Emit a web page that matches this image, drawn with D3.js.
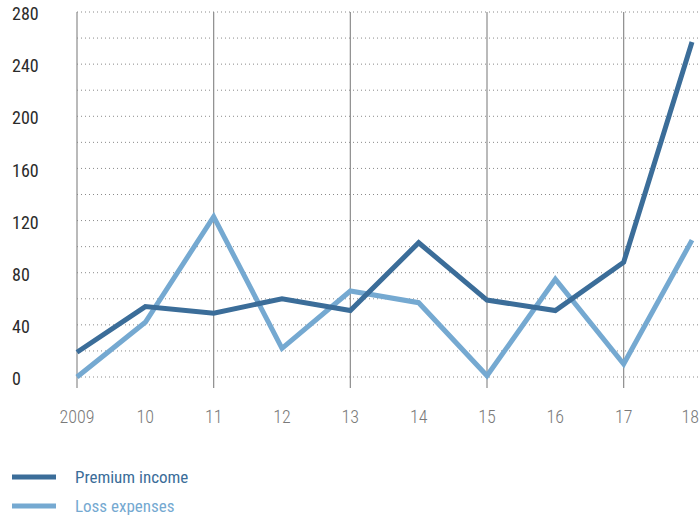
<!DOCTYPE html>
<html>
<head>
<meta charset="utf-8">
<script src="https://cdn.jsdelivr.net/npm/d3@7"></script>
<style>
  body { margin: 0; background: #fff; }
  text { font-family: "Roboto Condensed", "Roboto", sans-serif; font-stretch: condensed; }
</style>
</head>
<body>
<div id="chart"></div>
<script>
// data
const years = ["2009", "10", "11", "12", "13", "14", "15", "16", "17", "18"];
const premiumIncome = [19, 54, 49, 60, 51, 103, 59, 51, 88, 257];
const lossExpenses = [0, 42, 123, 22, 66, 57, 1, 75, 10, 105];
const yTicks = [0, 40, 80, 120, 160, 200, 240, 280];
const seriesNames = ["Premium income", "Loss expenses"];

const colors = ["#3b6d99", "#75a9d1"];

const width = 699, height = 515;
const margin = {top: 12, right: 7, bottom: 138, left: 77};

const svg = d3.select("#chart").append("svg")
    .attr("width", width)
    .attr("height", height);

const x = d3.scalePoint()
    .domain(years)
    .range([margin.left, width - margin.right]);

const y = d3.scaleLinear()
    .domain([0, 280])
    .range([height - margin.bottom, margin.top]);

// dotted horizontal grid every 20
const gridVals = d3.range(0, 281, 20);
svg.append("g").selectAll("line")
    .data(gridVals)
    .join("line")
    .attr("x1", margin.left)
    .attr("x2", width)
    .attr("y1", d => y(d))
    .attr("y2", d => y(d))
    .attr("stroke", "#8a8a8a")
    .attr("stroke-width", 1)
    .attr("stroke-dasharray", "1,3");

// solid vertical lines on every other year
svg.append("g").selectAll("line")
    .data(years.filter((d, i) => i % 2 === 0 && i < years.length - 1))
    .join("line")
    .attr("x1", d => x(d))
    .attr("x2", d => x(d))
    .attr("y1", margin.top)
    .attr("y2", y(0) + 11)
    .attr("stroke", "#8c8c8c")
    .attr("stroke-width", 1.2);

// y labels
svg.append("g").selectAll("text")
    .data(yTicks)
    .join("text")
    .attr("x", 12)
    .attr("y", d => y(d))
    .attr("dy", "0.45em")
    .style("font-size", "18px")
    .style("fill", "#2b2b2b")
    .text(d => d);

// x labels (last one pulled in so it stays on the page)
const last = years[years.length - 1];
svg.append("g").selectAll("text")
    .data(years)
    .join("text")
    .attr("x", d => d === last ? width : x(d))
    .attr("y", 423)
    .attr("text-anchor", d => d === last ? "end" : "middle")
    .style("font-size", "18px")
    .style("font-weight", 300)
    .style("fill", "#7a7a7a")
    .text(d => d);

const line = d3.line()
    .x((d, i) => x(years[i]))
    .y(d => y(d));

[premiumIncome, lossExpenses].reverse().forEach((vals, k) => {
    const idx = 1 - k;
    svg.append("path")
        .datum(vals)
        .attr("d", line)
        .attr("fill", "none")
        .attr("stroke", colors[idx])
        .attr("stroke-width", 5)
        .attr("stroke-linejoin", "miter");
});

// legend
const legend = svg.append("g");
seriesNames.forEach((name, i) => {
    const ly = 477 + i * 29;
    legend.append("line")
        .attr("x1", 12).attr("x2", 56)
        .attr("y1", ly).attr("y2", ly)
        .attr("stroke", colors[i])
        .attr("stroke-width", 5);
    legend.append("text")
        .attr("x", 75)
        .attr("y", ly)
        .attr("dy", "0.35em")
        .style("font-size", "17px")
        .style("fill", colors[i])
        .text(name);
});
</script>
</body>
</html>
